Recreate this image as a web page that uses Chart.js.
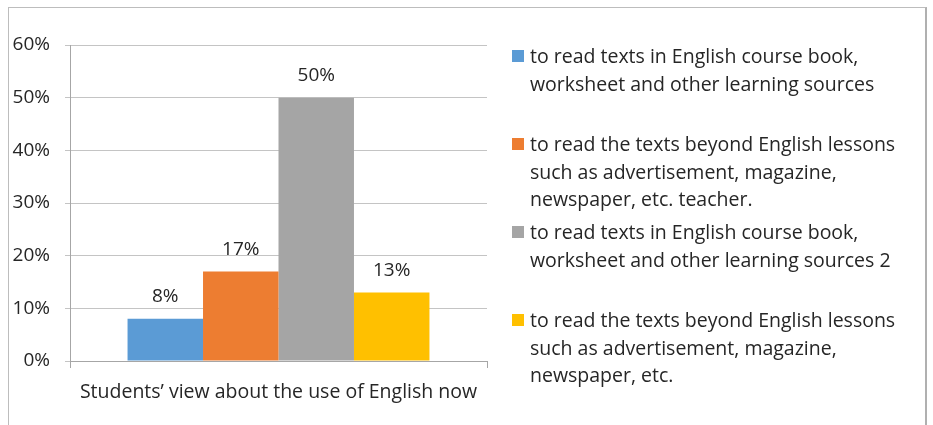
<!DOCTYPE html>
<html>
<head>
<meta charset="utf-8">
<script src="https://cdn.jsdelivr.net/npm/chart.js@4/dist/chart.umd.min.js"></script>
<style>
  html, body { margin:0; padding:0; background:#fff; }
  #wrap { position:relative; width:933px; height:425px; overflow:hidden; }
  #frame { position:absolute; left:8px; top:7px; width:919px; height:440px;
           border:1px solid #bdbdbd; border-right:2px solid #b0b0b0; box-sizing:border-box; }
  canvas { position:absolute; left:0; top:0; }
  #legend { position:absolute; left:512px; top:42px; font-family:"Open Sans", sans-serif;
            font-size:19.5px; color:#262626; }
  #legend .item { display:flex; height:88px; }
  #legend .box { width:12px; height:12px; margin-top:8px; flex:none; }
  #legend .txt { margin-left:6px; line-height:27.5px; white-space:nowrap; }
</style>
</head>
<body>
<div id="wrap">
  <div id="frame"></div>
  <canvas id="c" width="933" height="425"></canvas>
  <div id="legend"></div>
</div>
<script>
/* ––––– data ––––– */
const categories = ['Students\u2019 view about the use of English now'];
const seriesNames = [
  ['to read texts in English course book,', 'worksheet and other learning sources'],
  ['to read the texts beyond English lessons', 'such as advertisement, magazine,', 'newspaper, etc. teacher.'],
  ['to read texts in English course book,', 'worksheet and other learning sources 2'],
  ['to read the texts beyond English lessons', 'such as advertisement, magazine,', 'newspaper, etc.']
];
const seriesValues = [8, 17, 50, 13];          // percent
const seriesColours = ['#5b9bd5', '#ed7d31', '#a5a5a5', '#ffc000'];
const yTicks = [0, 10, 20, 30, 40, 50, 60];

const FONT = '"Open Sans", sans-serif';
const TEXT = '#262626';

/* value labels above each bar */
const barLabels = {
  id: 'barLabels',
  afterDatasetsDraw(chart){
    const ctx = chart.ctx;
    ctx.save();
    ctx.font = '19px ' + FONT;
    ctx.fillStyle = TEXT;
    ctx.textAlign = 'center';
    ctx.textBaseline = 'middle';
    chart.data.datasets.forEach((ds, i) => {
      chart.getDatasetMeta(i).data.forEach((bar, j) => {
        ctx.fillText(ds.data[j] + '%', bar.x, bar.y - 22);
      });
    });
    ctx.restore();
  }
};

const chart = new Chart(document.getElementById('c'), {
  type: 'bar',
  data: {
    labels: categories,
    datasets: seriesValues.map((v, i) => ({
      label: seriesNames[i].join(' '),
      data: [v],
      backgroundColor: seriesColours[i],
      categoryPercentage: 0.724,
      barPercentage: 1.0
    }))
  },
  options: {
    responsive: false,
    animation: false,
    layout: { padding: { left: 0, top: 45, right: 446, bottom: 0 } },
    plugins: { legend: { display: false }, tooltip: { enabled: false } },
    scales: {
      x: {
        grid: { offset: true, drawOnChartArea: false, drawTicks: true, tickLength: 7, color: '#a6a6a6' },
        border: { display: true, color: '#a6a6a6' },
        ticks: { padding: 13, color: TEXT, font: { family: FONT, size: 19.5 } },
        afterFit: s => { s.height = 64; }
      },
      y: {
        min: 0, max: 60,
        afterBuildTicks: s => { s.ticks = yTicks.map(v => ({ value: v })); },
        grid: { color: '#c4c4c4', tickLength: 5 },
        border: { display: true, color: '#a6a6a6' },
        ticks: { padding: 15, color: TEXT, font: { family: FONT, size: 19 },
                 callback: v => v + '%' },
        afterFit: s => { s.width = 70; }
      }
    }
  },
  plugins: [barLabels]
});

/* ––––– legend ––––– */
const legend = document.getElementById('legend');
seriesNames.forEach((lines, i) => {
  legend.innerHTML += `<div class="item"><div class="box" style="background:${seriesColours[i]}"></div>` +
    `<div class="txt">${lines.join('<br>')}</div></div>`;
});
</script>
</body>
</html>
